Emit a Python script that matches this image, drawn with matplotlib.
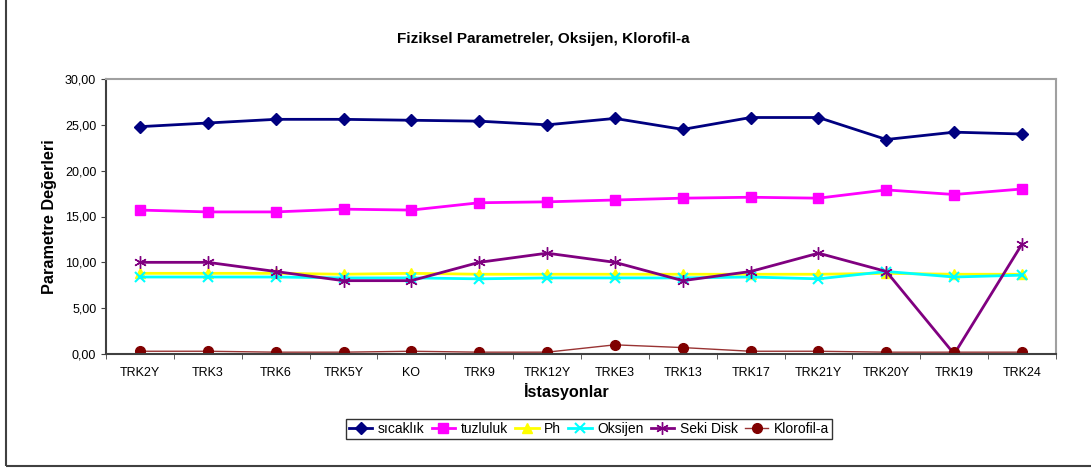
import matplotlib
matplotlib.use("Agg")
import matplotlib.pyplot as plt
from matplotlib.patches import Rectangle
from matplotlib.ticker import FixedLocator, FuncFormatter

plt.rcParams['font.family'] = ['Liberation Sans', 'DejaVu Sans']

stations = ["TRK2Y", "TRK3", "TRK6", "TRK5Y", "KO", "TRK9", "TRK12Y", "TRKE3",
            "TRK13", "TRK17", "TRK21Y", "TRK20Y", "TRK19", "TRK24"]
sicaklik = [24.8, 25.2, 25.6, 25.6, 25.5, 25.4, 25.0, 25.7, 24.5, 25.8, 25.8, 23.4, 24.2, 24.0]
tuzluluk = [15.7, 15.5, 15.5, 15.8, 15.7, 16.5, 16.6, 16.8, 17.0, 17.1, 17.0, 17.9, 17.4, 18.0]
ph = [8.8, 8.8, 8.8, 8.7, 8.8, 8.7, 8.7, 8.7, 8.7, 8.7, 8.7, 8.8, 8.7, 8.7]
oksijen = [8.4, 8.4, 8.4, 8.3, 8.3, 8.2, 8.3, 8.3, 8.3, 8.4, 8.2, 9.0, 8.4, 8.6]
seki_disk = [10, 10, 9, 8, 8, 10, 11, 10, 8, 9, 11, 9, 0, 12]
klorofil = [0.3, 0.3, 0.2, 0.2, 0.3, 0.2, 0.2, 1.0, 0.7, 0.3, 0.3, 0.2, 0.2, 0.2]

W, H = 1091, 470
fig = plt.figure(figsize=(W / 100, H / 100), dpi=100)
fig.patches.append(Rectangle((6 / W, 4 / H), 1.2, 1.2, transform=fig.transFigure,
                             fill=False, edgecolor='#404040', linewidth=1.5, zorder=10))

ax = fig.add_axes([106 / W, 1 - 354 / H, 950 / W, 275 / H])
x = list(range(len(stations)))

ax.plot(x, sicaklik, color='#000080', lw=2, marker='D', ms=6, label='sıcaklık')
ax.plot(x, tuzluluk, color='#FF00FF', lw=2, marker='s', ms=7, label='tuzluluk')
ax.plot(x, ph, color='#FFFF00', lw=2, marker='^', ms=7, label='Ph')
ax.plot(x, oksijen, color='#00FFFF', lw=2, marker='x', ms=7, mew=1.5, label='Oksijen')
ax.plot(x, seki_disk, color='#800080', lw=2, marker=(6, 2, 0), ms=9, mew=1, label='Seki Disk')
ax.plot(x, klorofil, color='#993333', lw=1, marker='o', ms=7, mfc='#800000', mec='#800000',
        label='Klorofil-a')

ax.set_xlim(-0.5, 13.5)
ax.set_ylim(0, 30)
ax.set_yticks([0, 5, 10, 15, 20, 25, 30])
ax.yaxis.set_major_formatter(FuncFormatter(lambda v, p: f"{v:.2f}".replace('.', ',')))
ax.set_xticks(x)
ax.set_xticklabels(stations)
ax.xaxis.set_minor_locator(FixedLocator([i - 0.5 for i in range(len(stations) + 1)]))
ax.tick_params(axis='x', which='major', length=0, pad=9.5, labelsize=9)
ax.tick_params(axis='x', which='minor', length=3.5, direction='out', color='#404040')
ax.tick_params(axis='y', length=3.5, direction='out', labelsize=9, color='#404040', pad=3.5)

for s in ['top', 'right']:
    ax.spines[s].set_color('#a0a0a0')
    ax.spines[s].set_linewidth(1.5)
for s in ['left', 'bottom']:
    ax.spines[s].set_color('#404040')
    ax.spines[s].set_linewidth(1.5)

fig.text(50 / W, 1 - 217 / H, 'Parametre Değerleri', rotation=90, ha='center', va='center',
         fontsize=11.7, fontweight='bold')
fig.text(567 / W, 1 - 391 / H, 'İstasyonlar', ha='center', va='center',
         fontsize=11.7, fontweight='bold')
fig.text(543 / W, 1 - 39 / H, 'Fiziksel Parametreler, Oksijen, Klorofil-a', ha='center',
         va='center', fontsize=11, fontweight='bold')

leg = fig.legend(loc='center', bbox_to_anchor=(589 / W, 1 - 429 / H), ncol=6, fontsize=10,
                 frameon=True, fancybox=False, edgecolor='black', handlelength=1.7,
                 handletextpad=0.4, columnspacing=0.5, borderpad=0.2, borderaxespad=0)
leg.get_frame().set_linewidth(1)

fig.savefig('out.png', dpi=100)
